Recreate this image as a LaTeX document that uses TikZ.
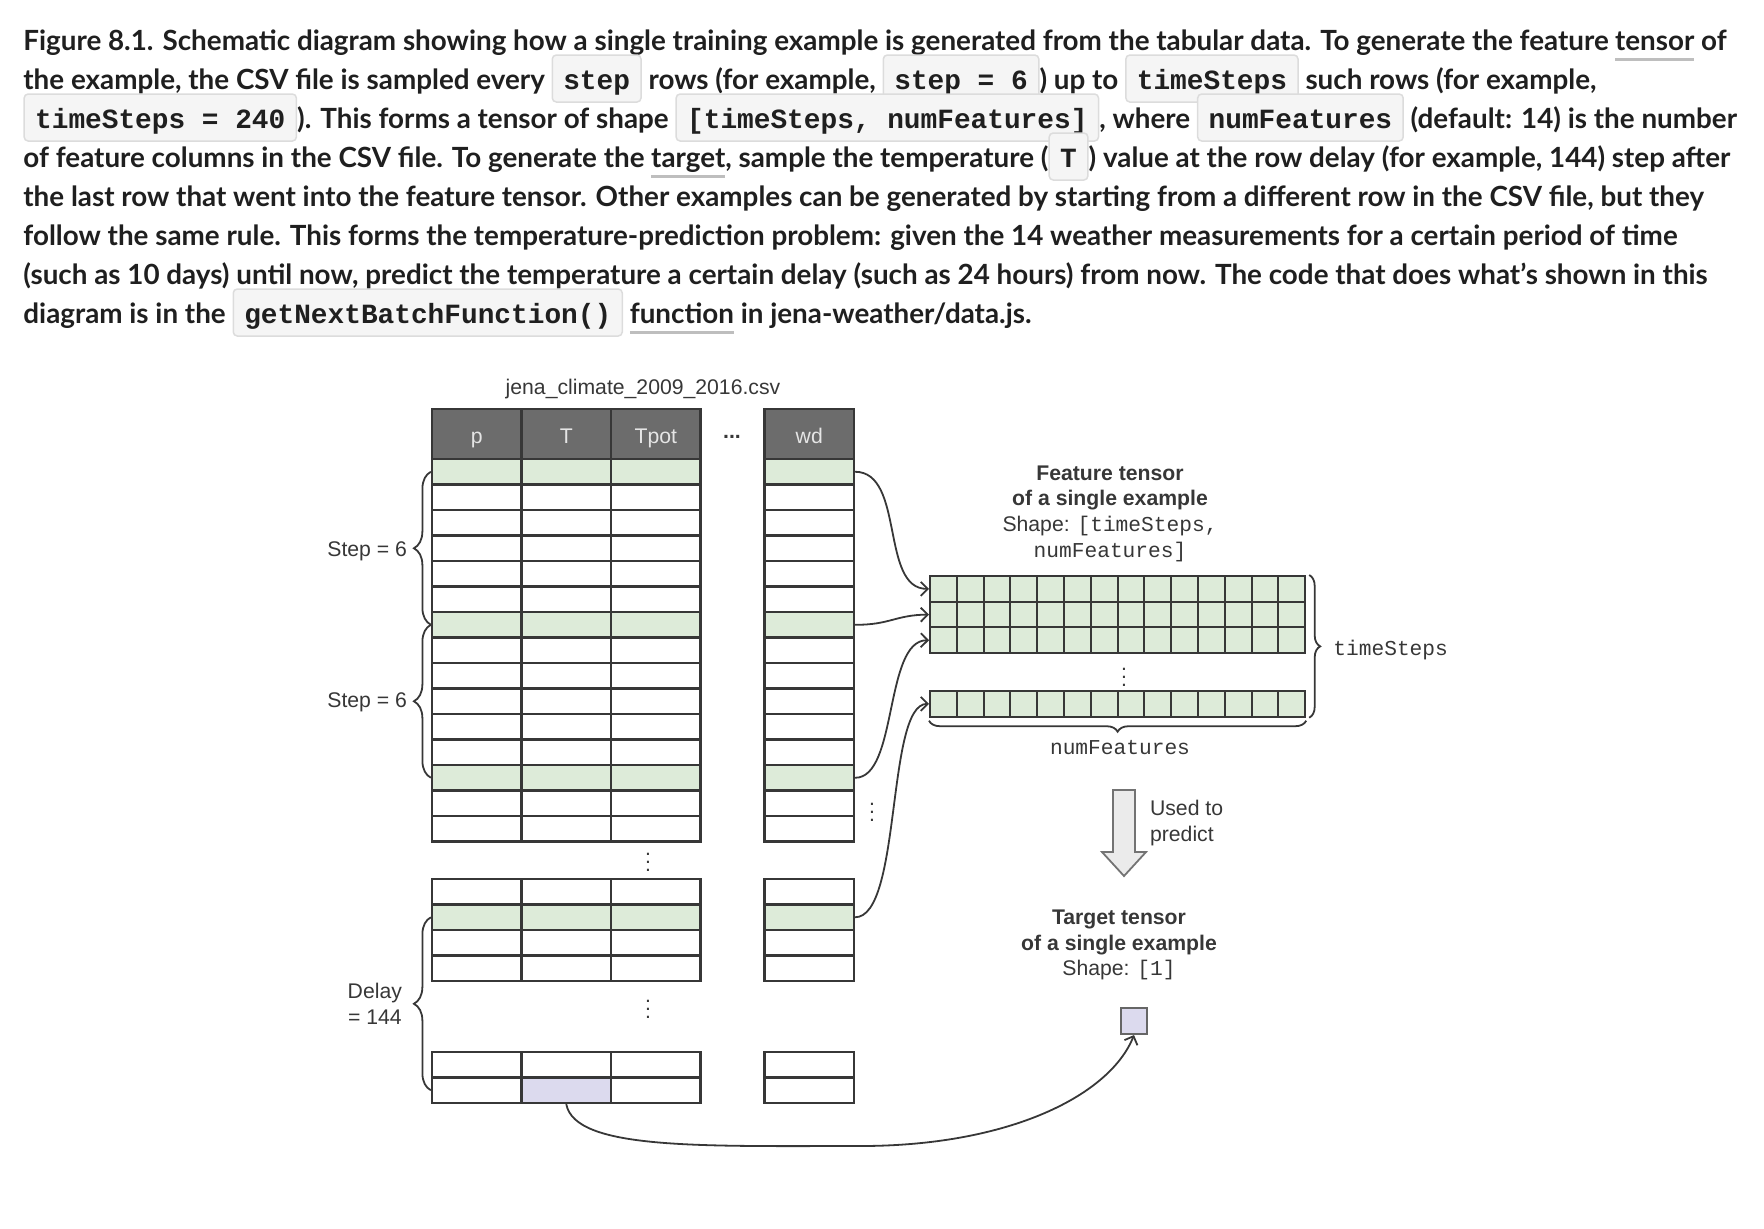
\documentclass[tikz,border=0pt]{standalone}
\usepackage{fontspec}
\setmainfont{Lato}
\setsansfont{Liberation Sans}
\setmonofont{Liberation Mono}
\usetikzlibrary{decorations.pathreplacing,arrows.meta}
\definecolor{featgreen}{RGB}{221,235,217}
\definecolor{targetlav}{RGB}{220,218,238}
\definecolor{hdrgray}{RGB}{108,108,108}
\definecolor{codefill}{RGB}{245,245,245}
\definecolor{codeline}{RGB}{220,220,220}
\definecolor{linkgray}{RGB}{190,190,190}
\definecolor{ink}{RGB}{55,55,55}
\tikzset{
  captxt/.style={anchor=base west, inner sep=0pt, text=black!88,
    font=\fontsize{13.9}{16}\selectfont\bfseries},
  codechip/.style={draw=codeline, fill=codefill, rounded corners=2pt,
    line width=0.75pt, inner xsep=5.5pt, inner ysep=0pt, minimum height=23.5pt,
    text height=11pt, text depth=0.5pt, text=black!88,
    font=\fontsize{13.9}{16}\selectfont\ttfamily\bfseries},
  lbl/.style={text=ink, font=\fontsize{10.6}{12.85}\selectfont\sffamily},
  hdr/.style={draw=ink, fill=hdrgray, text=white!90!black, line width=1.1pt,
    minimum width=44.75pt, minimum height=25pt, inner sep=0pt,
    text height=10pt, text depth=0.7pt,
    font=\fontsize{10.6}{12.85}\selectfont\sffamily},
  cell/.style={draw=ink, line width=1.1pt, minimum width=44.75pt,
    minimum height=12.75pt, inner sep=0pt},
  fcell/.style={draw=ink, fill=featgreen, line width=1pt, minimum width=13.4pt,
    minimum height=12.85pt, inner sep=0pt},
  brc/.style={decorate, draw=ink, line width=0.9pt},
  conn/.style={draw=ink, line width=0.9pt, -{Straight Barb[length=3.5pt,width=7pt]}}
}
\newcommand\cb[1]{\tikz[baseline=(cb.base)]\node[codechip](cb){#1};}
\newcommand\lnk[1]{\setbox0\hbox{#1}\rlap{\color{linkgray}\rule[-5.25pt]{\wd0}{1.5pt}}\box0\relax}
\begin{document}
\begin{tikzpicture}[x=0.5pt,y=-0.5pt]
\useasboundingbox (0,0) rectangle (1764,1228);
\node[captxt] (cap1) at (23,50) {Figure 8.1. Schematic diagram showing how a single training example is generated from the tabular data. To generate the feature \lnk{tensor} of};
\node[captxt] (cap2) at (23,89) {the example, the CSV file is sampled every \cb{step} rows (for example, \cb{step = 6}) up to \cb{timeSteps} such rows (for example,};
\node[captxt] (cap3) at (23,128) {\cb{timeSteps = 240}). This forms a tensor of shape \cb{[timeSteps, numFeatures]}, where \cb{numFeatures} (default: 14) is the number};
\node[captxt] (cap4) at (23,167) {of feature columns in the CSV file. To generate the \lnk{target}, sample the temperature (\cb{T}) value at the row delay (for example, 144) step after};
\node[captxt] (cap5) at (23,206) {the last row that went into the feature tensor. Other examples can be generated by starting from a different row in the CSV file, but they};
\node[captxt] (cap6) at (23,245) {follow the same rule. This forms the temperature-prediction problem: given the 14 weather measurements for a certain period of time};
\node[captxt] (cap7) at (23,284) {(such as 10 days) until now, predict the temperature a certain delay (such as 24 hours) from now. The code that does what’s shown in this};
\node[captxt] (cap8) at (23,323) {diagram is in the \cb{getNextBatchFunction()} \lnk{function} in jena-weather/data.js.};

\node[lbl] (csv) at (643,389) {jena\_climate\_2009\_2016.csv};
\foreach \c/\x/\t in {1/476.75/p,2/566.25/T,3/655.75/Tpot,4/809.25/wd}
  \node[hdr] (h\c) at (\x,434) {\t};
\node[lbl] (hdots) at (732,437) {\textbf{...}};

\foreach \r in {1,...,15}{
  \pgfmathtruncatemacro\g{mod(\r,6)==1}
  \ifnum\g=1 \def\rowfill{featgreen}\else\def\rowfill{white}\fi
  \foreach \c/\x in {1/476.75,2/566.25,3/655.75,4/809.25}
    \node[cell, fill=\rowfill] (u\r-\c) at (\x,{459+(\r-0.5)*25.5}) {};
}
\foreach \r in {1,...,4}{
  \ifnum\r=2 \def\rowfill{featgreen}\else\def\rowfill{white}\fi
  \foreach \c/\x in {1/476.75,2/566.25,3/655.75,4/809.25}
    \node[cell, fill=\rowfill] (m\r-\c) at (\x,{879+(\r-0.5)*25.5}) {};
}
\foreach \r in {1,2}
  \foreach \c/\x in {1/476.75,2/566.25,3/655.75,4/809.25}
    \node[cell, fill=white] (b\r-\c) at (\x,{1052+(\r-0.5)*25.5}) {};
\node[cell, fill=targetlav] at (b2-2) {};

\node[lbl] (vd1) at (648,856) {$\vdots$};
\node[lbl] (vd2) at (648,1003) {$\vdots$};
\node[lbl] (vd3) at (872,806) {$\vdots$};

\draw[brc, decoration={brace, amplitude=8.5pt}] (u7-1.west) -- (u1-1.west);
\draw[brc, decoration={brace, amplitude=8.5pt}] (u13-1.west) -- (u7-1.west);
\draw[brc, decoration={brace, amplitude=8.5pt}] (b2-1.west) -- (m2-1.west);
\node[lbl, anchor=east] (st1) at (414,551) {Step = 6};
\node[lbl, anchor=east] (st2) at (414,702) {Step = 6};
\node[lbl, anchor=east, align=center] (dly) at (409,1004) {Delay\\= 144};

\foreach \r/\y in {1/588.85,2/614.55,3/640.25,4/703.85}
  \foreach \c in {1,...,14}
    \node[fcell] (f\r-\c) at ({930+(\c-0.5)*26.8},\y) {};
\node[lbl] (vd4) at (1124,671) {$\vdots$};
\draw[brc, decoration={brace, amplitude=5.5pt}] ([xshift=1.5pt]f1-14.north east) -- ([xshift=1.5pt]f4-14.south east);
\draw[brc, decoration={brace, amplitude=5.5pt}] ([yshift=-1.5pt]f4-14.south east) -- ([yshift=-1.5pt]f4-1.south west);
\node[lbl, anchor=west, inner sep=0pt] (tsl) at (1333,650) {\ttfamily timeSteps};
\node[lbl] (nfl) at (1120,748) {\ttfamily numFeatures};
\node[lbl, align=center] (flab) at (1110,513.5) {\textbf{Feature tensor}\\\textbf{of a single example}\\Shape: \texttt{[timeSteps,}\\\texttt{numFeatures]}};

\draw[conn] (u1-4.east) .. controls (905,472) and (880,589) .. (f1-1.west);
\draw[conn] (u7-4.east) .. controls (890,625) and (895,615) .. (f2-1.west);
\draw[conn] (u13-4.east) .. controls (898,778) and (884,640) .. (f3-1.west);
\draw[conn] (m2-4.east) .. controls (902,917) and (886,704) .. (f4-1.west);

\draw[fill=black!8, draw=black!55, line width=0.9pt] (1113,790) -- (1135,790) -- (1135,852) -- (1146,852) -- (1124,876) -- (1102,852) -- (1113,852) -- cycle;
\node[lbl, anchor=west, align=left] (use) at (1143,823) {Used to\\predict};
\node[lbl, align=center] (tlab) at (1119,945) {\textbf{Target tensor}\\\textbf{of a single example}\\Shape: \texttt{[1]}};
\node[draw=black!60, fill=targetlav, line width=1pt, minimum size=13pt, inner sep=0pt] (tgt) at (1134,1021) {};
\draw[conn] (b2-2.south) .. controls (575,1150) and (700,1146) .. (860,1146) .. controls (1010,1146) and (1110,1095) .. (tgt.south);
\end{tikzpicture}
\end{document}
